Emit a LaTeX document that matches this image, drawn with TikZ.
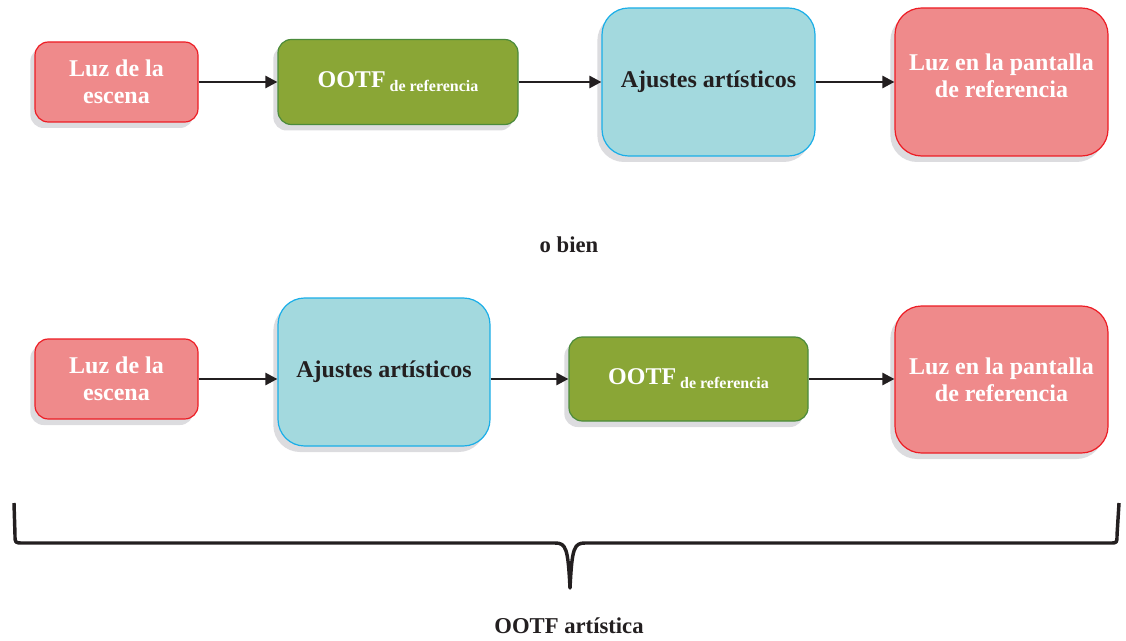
\documentclass[tikz,border=0pt]{standalone}
\usepackage{fontspec}
\setmainfont{Liberation Serif}
\usetikzlibrary{arrows.meta,shadows}
\definecolor{pinkf}{HTML}{EF8A8B}
\definecolor{redb}{HTML}{ED1C24}
\definecolor{greenf}{HTML}{8AA636}
\definecolor{greenb}{HTML}{4B8B3B}
\definecolor{bluef}{HTML}{A3D9DE}
\definecolor{blueb}{HTML}{1AAEE8}
\definecolor{ink}{HTML}{231F20}
\definecolor{shad}{HTML}{DCDCDF}
\tikzset{
  box/.style={draw, line width=0.9pt, align=center, inner sep=2pt,
    font=\fontsize{18}{20}\selectfont\bfseries,
    general shadow={fill=shad, shadow xshift=-3.5pt, shadow yshift=-4.5pt}},
  pinkbox/.style={box, fill=pinkf, draw=redb, text=white},
  greenbox/.style={box, fill=greenf, draw=greenb, text=white},
  bluebox/.style={box, fill=bluef, draw=blueb, text=ink},
  small/.style={rounded corners=10pt},
  big/.style={rounded corners=20pt},
  conn/.style={draw=ink, line width=1.9pt, -{Triangle[length=9pt,width=9pt]}},
  label/.style={text=ink, font=\fontsize{17}{20}\selectfont\bfseries},
}
\newcommand{\ootfsub}{OOTF\,\raisebox{-3pt}{\fontsize{12}{14}\selectfont de referencia}}
\begin{document}
\begin{tikzpicture}[x=0.75pt,y=-0.75pt]
\useasboundingbox (0,0) rectangle (1126,641);
% top row
\node[pinkbox, small, minimum width=122.25pt, minimum height=60pt] (t1) at (116.5,82) {Luz de la\\escena};
\node[greenbox, small, minimum width=180pt, minimum height=63.75pt] (t2) at (398,82) {\ootfsub};
\node[bluebox, big, minimum width=159.75pt, minimum height=111pt] (t3) at (708.5,82) {Ajustes artísticos};
\node[pinkbox, big, minimum width=159.75pt, minimum height=111pt] (t4) at (1001.5,82) {};
\node[text=white, align=center, font=\fontsize{18}{20}\selectfont\bfseries] (t4t) at (1001.5,76) {Luz en la pantalla\\de referencia};
\draw[conn] (t1.east) -- (t2.west);
\draw[conn] (t2.east) -- (t3.west);
\draw[conn] (t3.east) -- (t4.west);
% middle label
\node[label] (obien) at (569,245) {o bien};
% bottom row
\node[pinkbox, small, minimum width=122.25pt, minimum height=60pt] (b1) at (116.5,379) {Luz de la\\escena};
\node[bluebox, big, minimum width=159pt, minimum height=111pt] (b2) at (384,372) {Ajustes artísticos};
\node[greenbox, small, minimum width=179.25pt, minimum height=63pt] (b3) at (688.5,379) {\ootfsub};
\node[pinkbox, big, minimum width=159.75pt, minimum height=110.25pt] (b4) at (1001.5,379.5) {Luz en la pantalla\\de referencia};
\draw[conn] (b1.east) -- (b1.east -| b2.west);
\draw[conn] (b2.east |- b3.west) -- (b3.west);
\draw[conn] (b3.east) -- (b3.east -| b4.west);
% brace
\coordinate (bl) at (14,503);
\coordinate (br) at (1119,503);
\coordinate (tip) at (570,588);
\draw[ink, line width=2.6pt, line join=round]
  (bl) -- (15,535) .. controls (15,543) .. (23,543) -- (555,543)
  .. controls (566,543) and (568,548) .. (tip)
  .. controls (572,548) and (574,543) .. (585,543) -- (1110,543)
  .. controls (1117,543) .. (1117,535) -- (br);
\node[label] (ootfa) at (569,626) {OOTF artística};
\end{tikzpicture}
\end{document}
